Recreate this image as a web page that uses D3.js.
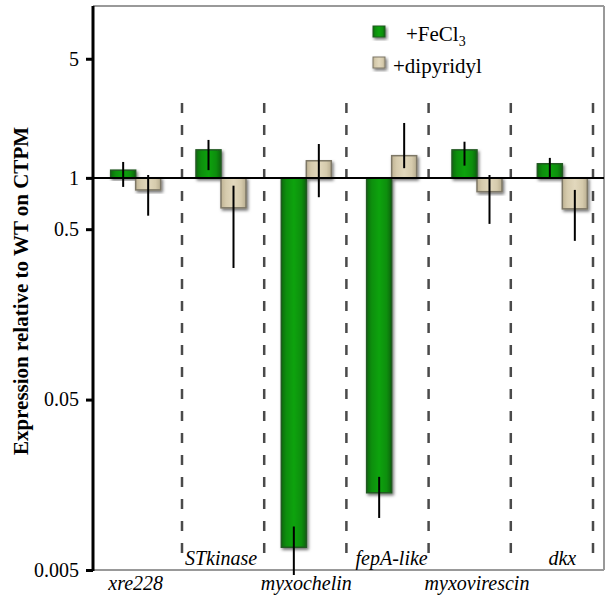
<!DOCTYPE html>
<html><head><meta charset="utf-8">
<script src="https://cdn.jsdelivr.net/npm/d3@7"></script>
<style>body{margin:0;background:#fff}svg{display:block} text{font-family:"Liberation Serif","Times New Roman","DejaVu Serif",serif !important;}</style>
</head><body>
<script>
const categories = ["xre228","STkinase","myxochelin","fepA-like","myxovirescin","dkx"];
const labelRow = [0,1,0,1,0,1];
const fecl3 = [1.11, 1.46, 0.0068, 0.0142, 1.46, 1.21];
const fecl3ErrHigh = [1.24, 1.67, 0.0090, 0.0176, 1.63, 1.31];
const fecl3ErrLow = [0.885, 1.11, 0.005, 0.0101, 1.18, 1.0];
const dipyridyl = [0.85, 0.667, 1.26, 1.35, 0.83, 0.658];
const dipErrHigh = [1.04, 0.90, 1.58, 2.10, 1.04, 0.85];
const dipErrLow = [0.60, 0.296, 0.77, 1.14, 0.537, 0.427];
const yTicks = [5, 1, 0.5, 0.05, 0.005];
const separators = [0,1,2,3,4,5];

(function(){
const W = 613, H = 600;
const svg = d3.select("body").append("svg").attr("width", W).attr("height", H);
const defs = svg.append("defs");
function grad(id, stops){
  const g = defs.append("linearGradient").attr("id", id).attr("x1","0").attr("x2","1").attr("y1","0").attr("y2","0");
  stops.forEach(s => g.append("stop").attr("offset", s[0]).attr("stop-color", s[1]));
}
grad("gGreen", [[0,"#0b6a0b"],[0.2,"#0a8f0a"],[0.5,"#0aa30c"],[0.8,"#0a8f0a"],[1,"#0b640b"]]);
grad("gTan", [[0,"#bfb394"],[0.2,"#d6cbad"],[0.5,"#e2d8bd"],[0.8,"#d6cbad"],[1,"#b8ad90"]]);
const f = defs.append("filter").attr("id","sh").attr("x","-30%").attr("y","-30%").attr("width","160%").attr("height","160%");
f.append("feDropShadow").attr("dx",1.5).attr("dy",2).attr("stdDeviation",1.5).attr("flood-color","#000").attr("flood-opacity",0.55);

const pL = 93, pR = 605, pT = 6, pB = 570;
const y = d3.scaleLog().domain([0.005, 10.2]).range([pB, pT]);
const x = d3.scaleBand().domain(categories).range([pL, pR]).paddingInner(0).paddingOuter(0);
const sepX = d3.scaleLinear().domain([0,5]).range([182, 593]);
const barW = 25;

// frame
svg.append("line").attr("x1",pL).attr("x2",pR-1).attr("y1",pT).attr("y2",pT).attr("stroke","#999").attr("stroke-width",2);
svg.append("line").attr("x1",pR-1).attr("x2",pR-1).attr("y1",pT).attr("y2",pB).attr("stroke","#999").attr("stroke-width",2);
svg.append("line").attr("x1",pL).attr("x2",pR-1).attr("y1",pB).attr("y2",pB).attr("stroke","#999").attr("stroke-width",2);

// separators
svg.selectAll(".sep").data(separators).join("line")
  .attr("x1", d=>sepX(d)).attr("x2", d=>sepX(d)).attr("y1",103).attr("y2",556)
  .attr("stroke","#4a4a4a").attr("stroke-width",2.5).attr("stroke-dasharray","10,12");

// bars
function bars(vals, fill, offset, stroke){
  svg.append("g").selectAll("rect").data(vals).join("rect")
    .attr("x",(d,i)=>x(categories[i]) + x.bandwidth()/2 + offset)
    .attr("width", barW)
    .attr("y", d=>Math.min(y(d), y(1)))
    .attr("height", d=>Math.abs(y(d)-y(1)))
    .attr("fill", fill).attr("stroke", stroke).attr("stroke-width",1.5)
    .attr("filter","url(#sh)");
}
bars(fecl3, "url(#gGreen)", -barW, "#245a24");
bars(dipyridyl, "url(#gTan)", 0, "#7d7766");

// baseline
svg.append("line").attr("x1",pL).attr("x2",pR-1).attr("y1",y(1)).attr("y2",y(1)).attr("stroke","#000").attr("stroke-width",2);

// error bars
function errs(lo, hi, offset){
  svg.append("g").selectAll("line").data(lo).join("line")
    .attr("x1",(d,i)=>x(categories[i]) + x.bandwidth()/2 + offset)
    .attr("x2",(d,i)=>x(categories[i]) + x.bandwidth()/2 + offset)
    .attr("y1",(d,i)=>y(hi[i])).attr("y2",(d)=>y(d)+ (d<=0.005?5:0))
    .attr("stroke","#000").attr("stroke-width",2);
}
errs(fecl3ErrLow, fecl3ErrHigh, -barW/2);
errs(dipErrLow, dipErrHigh, barW/2);

// y axis
const ax = svg.append("g").attr("transform",`translate(${pL},0)`)
  .call(d3.axisLeft(y).tickValues(yTicks).tickFormat(d=>String(d)).tickSize(7).tickPadding(7));
ax.attr("font-family", null);
ax.select(".domain").attr("stroke","#000").attr("stroke-width",3).attr("d",`M0,${pT}V${pB+1}`);
ax.selectAll(".tick line").attr("stroke","#000").attr("stroke-width",3);
ax.selectAll(".tick text").attr("font-size",20).attr("fill","#000");

// y title
svg.append("text").attr("transform",`translate(28,291) rotate(-90)`).attr("text-anchor","middle")
  .attr("font-weight","bold").attr("font-size",21).text("Expression relative to WT on CTPM");

// x labels
svg.selectAll(".xl").data(categories).join("text")
  .attr("x", d=>x(d)+x.bandwidth()/2)
  .attr("y", (d,i)=> labelRow[i] ? 565 : 590)
  .attr("text-anchor","middle").attr("font-style","italic").attr("font-size",20).text(d=>d);

// legend
const lg = svg.append("g");
lg.append("rect").attr("x",373).attr("y",26).attr("width",12).attr("height",11).attr("fill","url(#gGreen)").attr("stroke","#245a24").attr("filter","url(#sh)");
lg.append("rect").attr("x",373).attr("y",57).attr("width",12).attr("height",11).attr("fill","url(#gTan)").attr("stroke","#7d7766").attr("filter","url(#sh)");
const t1 = lg.append("text").attr("x",406).attr("y",41).attr("font-size",21);
t1.append("tspan").text("+FeCl");
t1.append("tspan").attr("font-size",14).attr("dy",5).text("3");
lg.append("text").attr("x",393).attr("y",73).attr("font-size",21).text("+dipyridyl");
})();
</script>
</body></html>
